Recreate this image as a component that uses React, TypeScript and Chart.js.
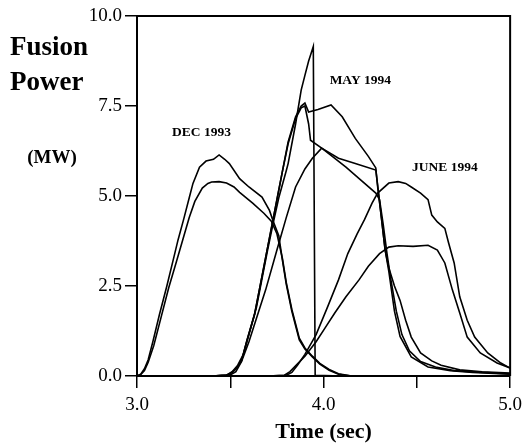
import React, { useEffect, useRef } from 'react';
import { Chart, registerables } from 'chart.js';

Chart.register(...registerables);

type Pt = [number, number];

// Time (sec), Fusion Power (MW)
const dec1993High: Pt[] = [
  [3.0, 0.0], [3.02, 0.05], [3.04, 0.2], [3.06, 0.45], [3.085, 0.95], [3.12, 1.7], [3.16, 2.5],
  [3.2, 3.35], [3.22, 3.78], [3.25, 4.35], [3.28, 4.95], [3.3, 5.35], [3.335, 5.8], [3.37, 5.97],
  [3.41, 6.02], [3.44, 6.14], [3.47, 6.02], [3.495, 5.9], [3.55, 5.48], [3.6, 5.25], [3.67, 4.97],
  [3.71, 4.6], [3.73, 4.3], [3.76, 3.9], [3.78, 3.2], [3.8, 2.55], [3.83, 1.8], [3.87, 1.0],
  [3.9, 0.75], [3.94, 0.53], [3.98, 0.33], [4.03, 0.16], [4.08, 0.05], [4.15, 0.0],
];

const dec1993Low: Pt[] = [
  [3.0, 0.0], [3.02, 0.04], [3.04, 0.15], [3.06, 0.38], [3.09, 0.85], [3.13, 1.65], [3.17, 2.45],
  [3.21, 3.15], [3.245, 3.78], [3.28, 4.4], [3.31, 4.85], [3.35, 5.22], [3.38, 5.35], [3.4, 5.39],
  [3.44, 5.4], [3.48, 5.36], [3.52, 5.25], [3.55, 5.1], [3.62, 4.8], [3.68, 4.52], [3.72, 4.3],
  [3.75, 3.95], [3.78, 3.25], [3.8, 2.6], [3.83, 1.85], [3.87, 1.05], [3.9, 0.78], [3.94, 0.55],
  [3.98, 0.35], [4.03, 0.18], [4.08, 0.06], [4.15, 0.0],
];

const may1994Spike: Pt[] = [
  [3.4, 0.0], [3.48, 0.02], [3.51, 0.12], [3.54, 0.3], [3.57, 0.6], [3.6, 1.15], [3.64, 1.9],
  [3.67, 2.7], [3.7, 3.5], [3.73, 4.25], [3.76, 4.95], [3.8, 5.7], [3.81, 5.9], [3.85, 7.0],
  [3.88, 7.94], [3.9, 8.35], [3.92, 8.75], [3.945, 9.15], [3.955, 0.02], [4.1, 0.0],
];

const may1994HighA: Pt[] = [
  [3.4, 0.0], [3.48, 0.02], [3.51, 0.1], [3.53, 0.2], [3.56, 0.42], [3.59, 1.0], [3.63, 1.7],
  [3.66, 2.5], [3.69, 3.3], [3.72, 4.1], [3.75, 4.9], [3.78, 5.7], [3.81, 6.5], [3.85, 7.2],
  [3.88, 7.5], [3.9, 7.58], [3.92, 7.33], [3.97, 7.4], [4.04, 7.53], [4.1, 7.2], [4.17, 6.6],
  [4.24, 6.1], [4.28, 5.78], [4.29, 5.25], [4.31, 4.4], [4.33, 3.5], [4.35, 3.0], [4.38, 2.5],
  [4.41, 2.1], [4.44, 1.55], [4.47, 1.08], [4.52, 0.64], [4.58, 0.42], [4.63, 0.3], [4.73, 0.17],
  [4.85, 0.12], [5.0, 0.08],
];

const may1994HighB: Pt[] = [
  [3.4, 0.0], [3.48, 0.02], [3.51, 0.1], [3.53, 0.2], [3.56, 0.42], [3.59, 1.0], [3.63, 1.72],
  [3.66, 2.5], [3.69, 3.3], [3.72, 4.1], [3.75, 4.9], [3.78, 5.7], [3.81, 6.45], [3.85, 7.15],
  [3.88, 7.45], [3.9, 7.5], [3.92, 7.0], [3.93, 6.55], [3.99, 6.33], [4.08, 6.05], [4.17, 5.9],
  [4.28, 5.72], [4.29, 5.3], [4.31, 4.4], [4.33, 3.5], [4.35, 2.9], [4.38, 1.8], [4.41, 1.1],
  [4.47, 0.53], [4.56, 0.25], [4.68, 0.15], [4.8, 0.1], [5.0, 0.05],
];

const may1994Mid: Pt[] = [
  [3.4, 0.0], [3.5, 0.03], [3.53, 0.12], [3.56, 0.4], [3.6, 0.95], [3.64, 1.6], [3.69, 2.4],
  [3.75, 3.5], [3.8, 4.4], [3.85, 5.25], [3.9, 5.75], [3.94, 6.05], [3.99, 6.33], [4.04, 6.13],
  [4.12, 5.8], [4.2, 5.44], [4.28, 5.08], [4.3, 4.9], [4.32, 4.2], [4.34, 3.4], [4.36, 2.7],
  [4.39, 1.8], [4.42, 1.15], [4.46, 0.7], [4.52, 0.4], [4.6, 0.25], [4.7, 0.15], [4.85, 0.1],
  [5.0, 0.06],
];

const june1994High: Pt[] = [
  [3.7, 0.0], [3.8, 0.02], [3.83, 0.1], [3.86, 0.3], [3.9, 0.6], [3.96, 1.15], [4.02, 1.9],
  [4.08, 2.67], [4.13, 3.4], [4.18, 3.95], [4.22, 4.35], [4.26, 4.8], [4.29, 5.08], [4.35, 5.36],
  [4.4, 5.4], [4.44, 5.35], [4.47, 5.25], [4.52, 5.08], [4.56, 4.9], [4.58, 4.47], [4.61, 4.28],
  [4.65, 4.1], [4.67, 3.7], [4.7, 3.14], [4.73, 2.2], [4.77, 1.55], [4.81, 1.08], [4.88, 0.64],
  [4.95, 0.36], [5.0, 0.22],
];

const june1994Low: Pt[] = [
  [3.7, 0.0], [3.79, 0.02], [3.82, 0.12], [3.85, 0.28], [3.9, 0.55], [3.96, 0.95], [4.01, 1.35],
  [4.06, 1.75], [4.12, 2.2], [4.19, 2.67], [4.24, 3.05], [4.3, 3.4], [4.35, 3.58], [4.4, 3.62],
  [4.48, 3.6], [4.56, 3.63], [4.61, 3.5], [4.65, 3.14], [4.69, 2.4], [4.73, 1.75], [4.77, 1.08],
  [4.84, 0.64], [4.93, 0.36], [5.0, 0.22],
];

const allSeries: Pt[][] = [
  dec1993High, dec1993Low, may1994Spike, may1994HighA, may1994HighB, may1994Mid, june1994High, june1994Low,
];

const annotationLabels = ['DEC 1993', 'MAY 1994', 'JUNE 1994'];
const annotationTimes = [3.346, 4.197, 4.65];
const annotationPowers = [6.75, 8.22, 5.8];

const yTitleLines = ['Fusion', 'Power'];
const yUnit = '(MW)';
const xTitle = 'Time (sec)';

const SERIF = '"Liberation Serif", "Times New Roman", serif';

const decorPlugin = {
  id: 'decor',
  beforeDatasetsDraw(chart: any) {
    const { ctx, chartArea } = chart;
    const { left, top, right, bottom } = chartArea;
    ctx.save();
    ctx.strokeStyle = '#000';
    ctx.lineWidth = 2;
    ctx.beginPath();
    ctx.moveTo(left, top);
    ctx.lineTo(right, top);
    ctx.lineTo(right, bottom);
    ctx.stroke();
    ctx.restore();
  },
  afterDraw(chart: any) {
    const { ctx } = chart;
    const xs = chart.scales.x;
    const ys = chart.scales.y;
    ctx.save();
    ctx.fillStyle = '#000';
    ctx.textAlign = 'left';
    ctx.textBaseline = 'alphabetic';
    ctx.font = `bold 27px ${SERIF}`;
    ctx.fillText(yTitleLines[0], 10, 55);
    ctx.fillText(yTitleLines[1], 10, 90);
    ctx.font = `bold 19px ${SERIF}`;
    ctx.textAlign = 'center';
    ctx.fillText(yUnit, 52, 163);

    ctx.font = `bold 13.5px ${SERIF}`;
    ctx.textBaseline = 'middle';
    annotationLabels.forEach((label, i) => {
      ctx.fillText(label, xs.getPixelForValue(annotationTimes[i]), ys.getPixelForValue(annotationPowers[i]));
    });
    ctx.restore();
  },
};

export default function App() {
  const canvasRef = useRef<HTMLCanvasElement>(null);

  useEffect(() => {
    if (!canvasRef.current) return;
    const chart = new Chart(canvasRef.current, {
      type: 'line',
      data: {
        datasets: allSeries.map((s) => ({
          data: s.map(([x, y]) => ({ x, y })),
          borderColor: '#000',
          borderWidth: 1.6,
          pointRadius: 0,
          fill: false,
          tension: 0,
        })),
      },
      options: {
        animation: false,
        responsive: false,
        devicePixelRatio: 1,
        layout: { padding: { left: 0, top: 16, right: 15, bottom: 0 } },
        plugins: { legend: { display: false }, tooltip: { enabled: false } },
        scales: {
          x: {
            type: 'linear',
            min: 3,
            max: 5,
            afterFit: (s: any) => {
              s.height = 70;
            },
            border: { display: true, color: '#000', width: 2 },
            grid: { display: true, drawOnChartArea: false, drawTicks: true, tickLength: 12, color: '#000', lineWidth: 1.5 },
            ticks: {
              stepSize: 0.5,
              autoSkip: false,
              maxRotation: 0,
              padding: 6,
              color: '#000',
              font: { family: SERIF, size: 19 },
              callback: (v: any) => (Math.abs(v - Math.round(v)) < 1e-6 ? Number(v).toFixed(1) : ''),
            },
            title: {
              display: true,
              text: xTitle,
              color: '#000',
              font: { family: SERIF, size: 22, weight: 'bold' },
              padding: { top: 0, bottom: 0 },
            },
          },
          y: {
            type: 'linear',
            min: 0,
            max: 10,
            afterFit: (s: any) => {
              s.width = 137;
            },
            border: { display: true, color: '#000', width: 2 },
            grid: { display: true, drawOnChartArea: false, drawTicks: true, tickLength: 12, color: '#000', lineWidth: 1.5 },
            ticks: {
              stepSize: 2.5,
              padding: 3,
              color: '#000',
              font: { family: SERIF, size: 19 },
              callback: (v: any) => Number(v).toFixed(1),
            },
          },
        },
      },
      plugins: [decorPlugin],
    } as any);
    return () => chart.destroy();
  }, []);

  return (
    <div style={{ position: 'fixed', left: 0, top: 0, width: 528, height: 446, background: '#fff' }}>
      <canvas ref={canvasRef} width={528} height={446} style={{ display: 'block' }} />
    </div>
  );
}
